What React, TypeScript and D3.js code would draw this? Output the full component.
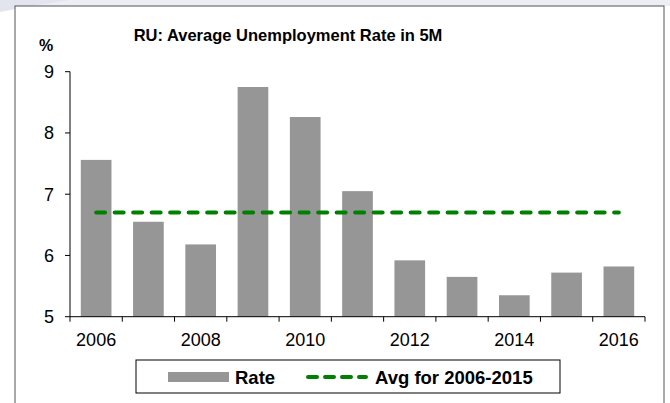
import React from "react";
import * as d3 from "d3";

const years = ["2006", "2007", "2008", "2009", "2010", "2011", "2012", "2013", "2014", "2015", "2016"];
const rates = [7.56, 6.55, 6.18, 8.75, 8.26, 7.05, 5.92, 5.65, 5.35, 5.72, 5.82];
const avgValue = 6.7;
const yTicks = [5, 6, 7, 8, 9];
const xLabelYears = ["2006", "2008", "2010", "2012", "2014", "2016"];
const titleText = "RU: Average Unemployment Rate in 5M";
const legendLabels = ["Rate", "Avg for 2006-2015"];

export default function App() {
  const W = 670, H = 403;
  const left = 70, right = 645, top = 71.7, bottom = 316.7;
  const x = d3.scaleBand<string>().domain(years).range([left, right]).paddingInner(0).paddingOuter(0);
  const y = d3.scaleLinear().domain([5, 9]).range([bottom, top]);
  const bw = x.bandwidth();
  const barW = bw * 0.587;
  const font = "'Liberation Sans', Arial, sans-serif";
  const boundaries = years.map((yr) => x(yr) as number).concat([right]);
  const cx = (yr: string) => (x(yr) as number) + bw / 2;

  return (
    <svg width={W} height={H} style={{ position: "absolute", left: 0, top: 0 }} fontFamily={font}>
      <rect x={0} y={0} width={W} height={H} fill="#ffffff" />
      <rect x={0} y={0} width={W} height={6} fill="#eceef4" />
      <path d="M0,0 L70,0 Q40,4 0,12 Z" fill="#e2e5ee" />
      <rect x={15} y={6} width={649} height={H} fill="#ffffff" stroke="#555" strokeWidth={1} />
      <text x={288} y={41} textAnchor="middle" fontSize={16.5} fontWeight="bold" fill="#000">{titleText}</text>
      <text x={39} y={51} fontSize={16} fontWeight="bold" fill="#000">%</text>

      {years.map((yr, i) => (
        <rect key={yr} x={cx(yr) - barW / 2} y={y(rates[i])} width={barW} height={y(5) - y(rates[i])} fill="#969696" />
      ))}

      <line x1={left} x2={left} y1={top} y2={bottom} stroke="#000" strokeWidth={1} />
      {yTicks.map((t) => (
        <g key={t}>
          <line x1={left - 5} x2={left} y1={y(t)} y2={y(t)} stroke="#000" strokeWidth={1} />
          <text x={54} y={y(t) + 6.5} textAnchor="end" fontSize={18} fill="#000">{t}</text>
        </g>
      ))}
      <line x1={left} x2={right} y1={bottom} y2={bottom} stroke="#000" strokeWidth={1} />
      {boundaries.map((b, i) => (
        <line key={i} x1={b} x2={b} y1={bottom} y2={bottom + 5} stroke="#000" strokeWidth={1} />
      ))}
      {xLabelYears.map((yr) => (
        <text key={yr} x={cx(yr)} y={346} textAnchor="middle" fontSize={18} fill="#000">{yr}</text>
      ))}

      <line x1={cx(years[0])} x2={cx(years[years.length - 1])} y1={y(avgValue)} y2={y(avgValue)}
        stroke="#008000" strokeWidth={4} strokeDasharray="9 9.5" strokeLinecap="round" />

      <rect x={136} y={360} width={424} height={33} fill="#fff" stroke="#000" strokeWidth={1} />
      <rect x={168} y={372} width={61} height={10} fill="#969696" />
      <text x={235} y={384} fontSize={18.5} fontWeight="bold" fill="#000">{legendLabels[0]}</text>
      <line x1={308} x2={366} y1={377} y2={377} stroke="#008000" strokeWidth={4} strokeDasharray="9 8" strokeLinecap="round" />
      <text x={375} y={384} fontSize={18.5} fontWeight="bold" fill="#000">{legendLabels[1]}</text>
    </svg>
  );
}
